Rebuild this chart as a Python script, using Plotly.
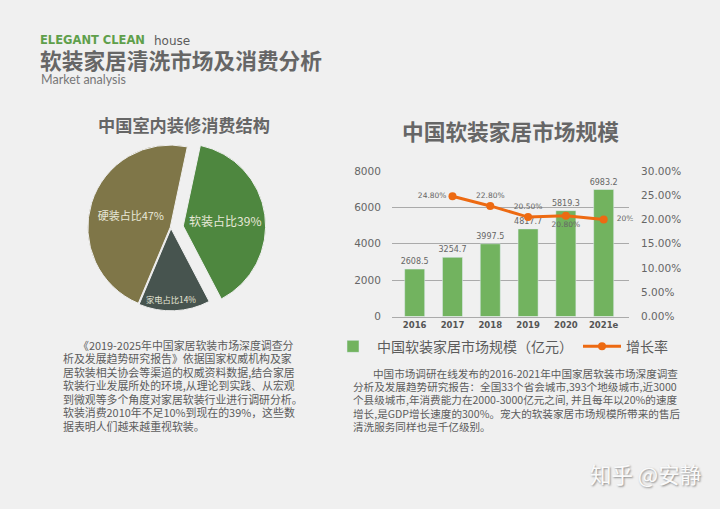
import plotly.graph_objects as go

CJK = "Noto Sans CJK SC"
W, H = 720, 509

# pie
pie_labels = ["软装占比39%", "家电占比14%", "硬装占比47%"]
pie_values = [39, 14, 47]
pie_colors = ["#4e873f", "#47544f", "#7f7648"]

# bars + line
years = ["2016", "2017", "2018", "2019", "2020", "2021e"]
market_size = [2608.5, 3254.7, 3997.5, 4817.7, 5819.3, 6983.2]
growth_years = ["2017", "2018", "2019", "2020", "2021e"]
growth_rate = [24.8, 22.8, 20.5, 20.8, 20]
growth_labels = ["24.80%", "22.80%", "20.50%", "20.80%", "\u00a0\u00a0\u00a020%"]
label_pos = ["middle left", "top center", "top center", "bottom center", "middle right"]
left_ticks = [0, 2000, 4000, 6000, 8000]
right_ticks = [0, 5, 10, 15, 20, 25, 30]

left_text = [
    "《2019-2025年中国家居软装市场深度调查分",
    "析及发展趋势研究报告》依据国家权威机构及家",
    "居软装相关协会等渠道的权威资料数据,结合家居",
    "软装行业发展所处的环境,从理论到实践、从宏观",
    "到微观等多个角度对家居软装行业进行调研分析。",
    "软装消费2010年不足10%到现在的39%，这些数",
    "据表明人们越来越重视软装。",
]
right_text = [
    "中国市场调研在线发布的2016-2021年中国家居软装市场深度调查",
    "分析及发展趋势研究报告：全国33个省会城市,393个地级城市,近3000",
    "个县级城市,年消费能力在2000-3000亿元之间, 并且每年以20%的速度",
    "增长,是GDP增长速度的300%。宠大的软装家居市场规模所带来的售后",
    "清洗服务同样也是千亿级别。",
]

fig = go.Figure()

fig.add_trace(go.Pie(
    labels=pie_labels,
    values=pie_values,
    text=pie_labels,
    textinfo="text",
    textposition="inside",
    insidetextorientation="horizontal",
    insidetextfont=dict(family=CJK, color="#e8e8d8", size=[12, 9.5, 11]),
    marker=dict(colors=pie_colors, line=dict(color="#f0f0f0", width=1)),
    pull=[0.15, 0.01, 0.01],
    sort=False,
    direction="clockwise",
    rotation=12,
    showlegend=False,
    domain=dict(x=[71 / W, 271 / W], y=[1 - 324 / H, 1 - 130 / H]),
))

fig.add_trace(go.Bar(
    x=years,
    y=market_size,
    name="中国软装家居市场规模（亿元）",
    marker_color="#72b35f",
    width=0.53,
    text=[str(v) for v in market_size],
    textposition="outside",
    constraintext="none",
    cliponaxis=False,
    textfont=dict(family="DejaVu Sans", size=8, color="#666666"),
))

fig.add_trace(go.Scatter(
    x=growth_years,
    y=growth_rate,
    name="增长率",
    yaxis="y2",
    mode="lines+markers+text",
    cliponaxis=False,
    line=dict(color="#ed6a12", width=3),
    marker=dict(color="#ed6a12", size=8),
    text=growth_labels,
    textposition=label_pos,
    textfont=dict(family="DejaVu Sans", size=7.5, color="#666666"),
))

annotations = []


def add_text(x, y, text, size, color="#5c5c5c", family=CJK, **kw):
    annotations.append(dict(
        x=x / W, y=1 - y / H, xref="paper", yref="paper", text=text,
        showarrow=False, xanchor="left", yanchor="middle",
        font=dict(family=family, size=size, color=color, **kw),
    ))


add_text(38, 35, "<b>ELEGANT CLEAN</b>", 11.5, color="#5f9f4b", family="DejaVu Sans")
add_text(152, 35.5, "house", 12, family="DejaVu Sans")
add_text(38, 55, "<b>软装家居清洗市场及消费分析</b>", 21.7, color="#666666")
add_text(39, 75, "Market analysis", 12.5, color="#777777", family="Lato")
add_text(96, 121, "<b>中国室内装修消费结构</b>", 17.2, color="#666666")
add_text(400, 128, "<b>中国软装家居市场规模</b>", 21.7, color="#666666")

for i, line in enumerate(left_text):
    add_text(76 if i == 0 else 61, 347 + i * 13.8, line, 10.9)
for i, line in enumerate(right_text):
    add_text(371 if i == 0 else 351, 376 + i * 13.7, line, 10.6)

add_text(588, 479, "知乎 @安静", 21.5, color="#fafafa", shadow="1px 1px 2px #8a8a8a")

fig.update_layout(
    width=W,
    height=H,
    autosize=False,
    paper_bgcolor="#f0f0f0",
    plot_bgcolor="#f0f0f0",
    margin=dict(l=0, r=0, t=0, b=0),
    annotations=annotations,
    xaxis=dict(
        domain=[392 / W, 629 / W],
        type="category",
        categoryorder="array",
        categoryarray=years,
        range=[-0.6, 5.67],
        showgrid=False,
        showline=True,
        linecolor="#aaaaaa",
        linewidth=1.2,
        ticks="",
        tickfont=dict(family="DejaVu Sans", size=8.5, color="#555555", weight="bold"),
    ),
    yaxis=dict(
        domain=[1 - 318 / H, 1 - 169 / H],
        range=[0, 8000],
        tickvals=left_ticks,
        showgrid=True,
        gridcolor="#aaaaaa",
        gridwidth=1.2,
        zeroline=False,
        ticks="outside",
        ticklen=8,
        tickcolor="#f0f0f0",
        tickfont=dict(family="DejaVu Sans", size=10.5, color="#666666"),
    ),
    yaxis2=dict(
        overlaying="y",
        side="right",
        anchor="x",
        range=[0, 30],
        tickvals=right_ticks,
        ticktext=[f"{t:.2f}%" for t in right_ticks],
        showgrid=False,
        zeroline=False,
        ticks="outside",
        ticklen=9,
        tickcolor="#f0f0f0",
        tickfont=dict(family="DejaVu Sans", size=10.5, color="#666666"),
    ),
    legend=dict(
        orientation="h",
        x=329 / W,
        y=1 - 349 / H,
        xanchor="left",
        yanchor="middle",
        font=dict(family=CJK, size=14, color="#5c5c5c"),
        bgcolor="rgba(0,0,0,0)",
        itemwidth=38,
    ),
)

# page margin would otherwise push the figure 8px in
fig.write_html(
    "out.html",
    config={"displayModeBar": False},
    post_script="document.body.style.margin='0';document.body.style.overflow='hidden';",
)
